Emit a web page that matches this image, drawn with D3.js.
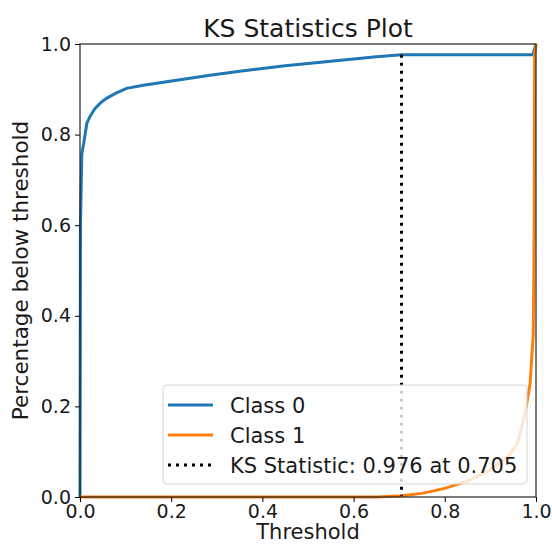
<!DOCTYPE html>
<html>
<head>
<meta charset="utf-8">
<script src="https://cdn.jsdelivr.net/npm/d3@7"></script>
<style>
  body { margin: 0; background: #fff; }
  text { font-family: "DejaVu Sans", sans-serif; fill: #1a1a1a; }
</style>
</head>
<body>
<svg></svg>
<script>
// cumulative share of each class below the threshold
var class0Thr = [0, 0.001, 0.004, 0.008, 0.015, 0.022, 0.033, 0.045, 0.058, 0.08, 0.102, 0.139, 0.212, 0.285, 0.35, 0.45, 0.55, 0.65, 0.705, 0.8, 0.9, 0.993, 1.0];
var class0Pct = [0, 0.6, 0.758, 0.78, 0.825, 0.84, 0.858, 0.87, 0.88, 0.892, 0.902, 0.909, 0.92, 0.931, 0.94, 0.952, 0.962, 0.972, 0.976, 0.976, 0.976, 0.976, 1.0];
var class1Thr = [0, 0.65, 0.705, 0.75, 0.8, 0.85, 0.9, 0.94, 0.96, 0.976, 0.987, 0.994, 0.996, 0.997, 1.0];
var class1Pct = [0, 0, 0.003, 0.008, 0.019, 0.035, 0.06, 0.09, 0.12, 0.185, 0.25, 0.36, 0.6, 0.98, 1.0];
var ksStat = 0.976, ksThr = 0.705;
var ticks = [0, 0.2, 0.4, 0.6, 0.8, 1.0];

var svg = d3.select("svg").attr("width", 552).attr("height", 546);

// plot box (window.top is reserved, so prefixed names)
var pLeft = 80, pRight = 536, pTop = 44, pBottom = 497;
var x = d3.scaleLinear().domain([0, 1]).range([pLeft, pRight]);
var y = d3.scaleLinear().domain([0, 1]).range([pBottom, pTop]);

var line = d3.line()
  .x(function(d) { return x(d[0]); })
  .y(function(d) { return y(d[1]); });

var s0 = class0Thr.map(function(t, i) { return [t, class0Pct[i]]; });
var s1 = class1Thr.map(function(t, i) { return [t, class1Pct[i]]; });

svg.append("path").datum(s0).attr("d", line)
  .attr("fill", "none").attr("stroke", "#1f77b4").attr("stroke-width", 3);
svg.append("path").datum(s1).attr("d", line)
  .attr("fill", "none").attr("stroke", "#ff7f0e").attr("stroke-width", 3);

// ks line between the two curves
var ksLow = class1Pct[class1Thr.indexOf(ksThr)];
svg.append("line")
  .attr("x1", x(ksThr)).attr("x2", x(ksThr))
  .attr("y1", y(ksStat)).attr("y2", y(ksLow))
  .attr("stroke", "#000").attr("stroke-width", 3)
  .attr("stroke-dasharray", "3,5");

// axes
var fmt = d3.format(".1f");
svg.append("g").attr("transform", "translate(0," + pBottom + ")")
  .call(d3.axisBottom(x).tickValues(ticks).tickFormat(fmt).tickSize(5).tickPadding(3))
  .call(function(g) { g.select(".domain").remove(); })
  .selectAll("text").style("font-size", "19px").attr("fill", "#1a1a1a");
svg.append("g").attr("transform", "translate(" + pLeft + ",0)")
  .call(d3.axisLeft(y).tickValues(ticks).tickFormat(fmt).tickSize(5).tickPadding(4))
  .call(function(g) { g.select(".domain").remove(); })
  .selectAll("text").style("font-size", "19px").attr("fill", "#1a1a1a");

svg.append("rect")
  .attr("x", pLeft).attr("y", pTop)
  .attr("width", pRight - pLeft).attr("height", pBottom - pTop)
  .attr("fill", "none").attr("stroke", "#222").attr("stroke-width", 1.2);

// legend
var lg = svg.append("g").attr("transform", "translate(163,385)");
lg.append("rect").attr("width", 364).attr("height", 99).attr("rx", 4)
  .attr("fill", "#fff").attr("fill-opacity", 0.8)
  .attr("stroke", "#d5d5d5").attr("stroke-width", 1);

var legendItems = [
  { label: "Class 0", color: "#1f77b4", dash: null },
  { label: "Class 1", color: "#ff7f0e", dash: null },
  { label: "KS Statistic: " + ksStat.toFixed(3) + " at " + ksThr.toFixed(3), color: "#000", dash: "3,5" }
];
legendItems.forEach(function(item, i) {
  var yy = 20 + i * 30;
  lg.append("line").attr("x1", 5).attr("x2", 50).attr("y1", yy).attr("y2", yy)
    .attr("stroke", item.color).attr("stroke-width", 3)
    .attr("stroke-dasharray", item.dash);
  lg.append("text").attr("x", 67).attr("y", yy + 8)
    .style("font-size", "21px").text(item.label);
});

// titles
svg.append("text").attr("x", (pLeft + pRight) / 2).attr("y", 37)
  .attr("text-anchor", "middle").style("font-size", "25px").text("KS Statistics Plot");
svg.append("text").attr("x", (pLeft + pRight) / 2).attr("y", 539)
  .attr("text-anchor", "middle").style("font-size", "21px").text("Threshold");
svg.append("text")
  .attr("transform", "translate(28," + (pTop + pBottom) / 2 + ") rotate(-90)")
  .attr("text-anchor", "middle").style("font-size", "21.5px").text("Percentage below threshold");
</script>
</body>
</html>
